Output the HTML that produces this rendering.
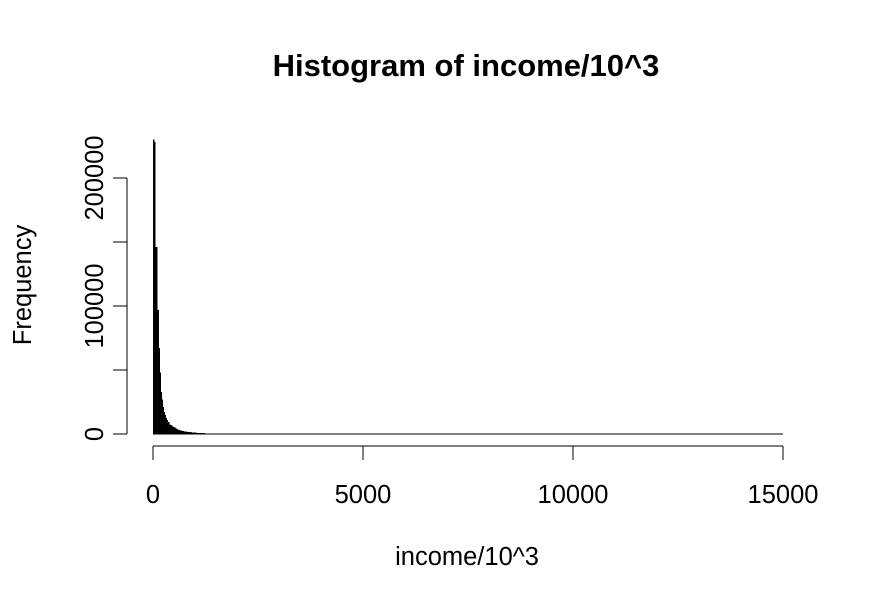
<!DOCTYPE html>
<html><head><meta charset="utf-8"><style>
body{margin:0;background:#fff}
svg text{font-family:"Liberation Sans",Arial,sans-serif;fill:#000}
</style></head><body>
<svg id="chart" width="872" height="605" xmlns="http://www.w3.org/2000/svg">
<text x="466" y="76" text-anchor="middle" font-size="31" font-weight="bold">Histogram of income/10^3</text>
<text x="467" y="565" text-anchor="middle" font-size="25.5">income/10^3</text>
<text transform="translate(31,285) rotate(-90)" text-anchor="middle" font-size="25.5">Frequency</text>
<g id="bars" shape-rendering="crispEdges"></g>
<g id="axes" shape-rendering="crispEdges"></g>
</svg>
<script>
const binWidth = 25;
const counts = [230000,228000,146000,146000,97000,67000,48000,33000,27000,21000,17000,15000,12500,11000,9400,7500,7000,6500,6000,5500,5000,4500,4000,3500,3000,2800,2600,2400,2200,2000,1900,1800,1700,1600,1500,1400,1300,1200,1100,1000,1000,900,900,800,800,700,700,600,600];
const xTicks = [0,5000,10000,15000];
const yTicks = [0,50000,100000,150000,200000];
const yLabels = ["0","","100000","","200000"];
const xMaxData = 15000;
const ns="http://www.w3.org/2000/svg";
function sx(v){return 153+v*(630/15000);}
function sy(v){return 434-v*(256/200000);}
function mk(t,a,p){const e=document.createElementNS(ns,t);for(const k in a)e.setAttribute(k,a[k]);p.appendChild(e);return e;}
const bars=document.getElementById('bars'), axes=document.getElementById('axes');
counts.forEach((c,i)=>{
  const x0=sx(i*binWidth), x1=sx((i+1)*binWidth);
  const r=mk('rect',{x:x0,y:sy(c),width:x1-x0+0.5,height:sy(0)-sy(c),fill:'#000',stroke:'none'},bars);
  
  
});
const base=mk('line',{x1:sx(0),x2:sx(xMaxData),y1:sy(0),y2:sy(0),stroke:'#000','stroke-width':1},bars);


const xa=mk('line',{x1:sx(xTicks[0]),x2:sx(xTicks[xTicks.length-1]),y1:446,y2:446,stroke:'#000','stroke-width':1},axes);


xTicks.forEach(t=>{
  mk('line',{x1:sx(t),x2:sx(t),y1:446,y2:460,stroke:'#000'},axes);
  const tx=mk('text',{x:sx(t),y:503,'text-anchor':'middle','font-size':25.5},axes);
  tx.textContent=t;
  
  
});
const ya=mk('line',{x1:127,x2:127,y1:sy(yTicks[0]),y2:sy(yTicks[yTicks.length-1]),stroke:'#000'},axes);


yTicks.forEach((t,i)=>{
  mk('line',{x1:113,x2:127,y1:sy(t),y2:sy(t),stroke:'#000'},axes);
  if(yLabels[i]){
    const tx=mk('text',{transform:`translate(103,${sy(t)}) rotate(-90)`,'text-anchor':'middle','font-size':25.5},axes);
    tx.textContent=yLabels[i];
    
    
  }
});
</script>
</body></html>
